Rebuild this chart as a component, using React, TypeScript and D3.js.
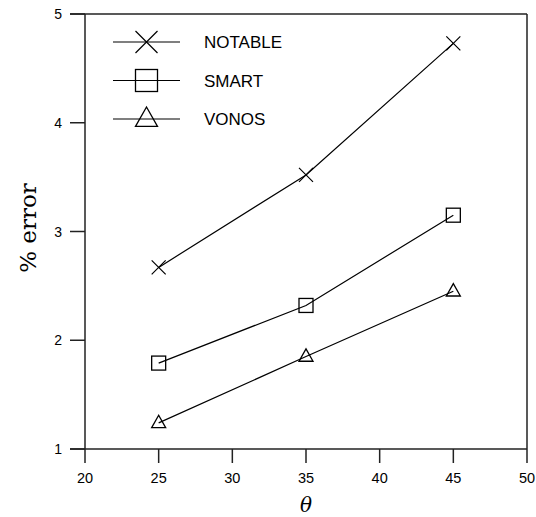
import { scaleLinear, line } from "d3";

const thetas = [25, 35, 45];
const notable = [2.67, 3.52, 4.73];
const smart = [1.79, 2.32, 3.15];
const vonos = [1.24, 1.85, 2.45];
const seriesNames = ["NOTABLE", "SMART", "VONOS"];
const xTicks = [20, 25, 30, 35, 40, 45, 50];
const yTicks = [1, 2, 3, 4, 5];

const W = 536;
const H = 517;

function Marker({ kind, x, y, s }: { kind: string; x: number; y: number; s: number }) {
  const h = s / 2;
  if (kind === "NOTABLE") {
    return (
      <path
        d={`M${x - h},${y - h}L${x + h},${y + h}M${x - h},${y + h}L${x + h},${y - h}`}
        stroke="#000"
        strokeWidth={1.2}
        fill="none"
      />
    );
  }
  if (kind === "SMART") {
    return <rect x={x - h} y={y - h} width={s} height={s} fill="none" stroke="#000" strokeWidth={1.3} />;
  }
  const th = s * 0.88;
  return (
    <path
      d={`M${x},${y - th * 0.62}L${x + h},${y + th * 0.38}L${x - h},${y + th * 0.38}Z`}
      fill="none"
      stroke="#000"
      strokeWidth={1.3}
    />
  );
}

export default function App() {
  const x = scaleLinear().domain([20, 50]).range([85, 527]);
  const y = scaleLinear().domain([1, 5]).range([449, 14]);
  const data = [notable, smart, vonos];
  const l = line<number>()
    .x((_, i) => x(thetas[i]))
    .y((d) => y(d));

  const sans = "'Liberation Sans', Arial, sans-serif";

  return (
    <svg width={W} height={H} style={{ position: "absolute", left: 0, top: 0, background: "#fff" }}>
      {/* frame */}
      <line x1={x(20)} x2={x(20)} y1={y(5)} y2={y(1)} stroke="#222" strokeWidth={1.5} />
      <line x1={x(50)} x2={x(50)} y1={y(5)} y2={y(1)} stroke="#222" strokeWidth={1.5} />
      <line x1={70} x2={x(50)} y1={y(5)} y2={y(5)} stroke="#222" strokeWidth={1.5} />
      <line x1={70} x2={x(50)} y1={y(1)} y2={y(1)} stroke="#222" strokeWidth={1.5} />
      {yTicks.map((t) => (
        <g key={"y" + t}>
          <line x1={70} x2={x(20)} y1={y(t)} y2={y(t)} stroke="#222" strokeWidth={1.5} />
          <text x={62} y={y(t) + 5} textAnchor="end" fontFamily={sans} fontSize={14}>
            {t}
          </text>
        </g>
      ))}
      {xTicks.map((t) => (
        <g key={"x" + t}>
          <line x1={x(t)} x2={x(t)} y1={y(1)} y2={y(1) + 14} stroke="#222" strokeWidth={1.5} />
          <text x={x(t)} y={y(1) + 34} textAnchor="middle" fontFamily={sans} fontSize={14.5}>
            {t}
          </text>
        </g>
      ))}
      <text x={x(35)} y={512} textAnchor="middle" fontFamily="'DejaVu Serif', serif" fontStyle="italic" fontSize={20}>
        θ
      </text>
      <text
        transform={`translate(36,228) rotate(-90)`}
        textAnchor="middle"
        fontFamily="'DejaVu Serif', serif"
        fontSize={23}
      >
        % error
      </text>

      {/* series */}
      {data.map((d, si) => (
        <g key={seriesNames[si]}>
          <path d={l(d) || ""} fill="none" stroke="#000" strokeWidth={1.2} />
          {d.map((v, i) => (
            <Marker key={i} kind={seriesNames[si]} x={x(thetas[i])} y={y(v)} s={14} />
          ))}
        </g>
      ))}

      {/* legend */}
      {seriesNames.map((n, i) => {
        const ly = 42 + i * 38.5;
        return (
          <g key={"lg" + n}>
            <line x1={113} x2={180} y1={ly} y2={ly} stroke="#000" strokeWidth={1.2} />
            <Marker kind={n} x={146.5} y={ly} s={22} />
            <text x={204} y={ly + 6} fontFamily={sans} fontSize={17}>
              {n}
            </text>
          </g>
        );
      })}
    </svg>
  );
}
